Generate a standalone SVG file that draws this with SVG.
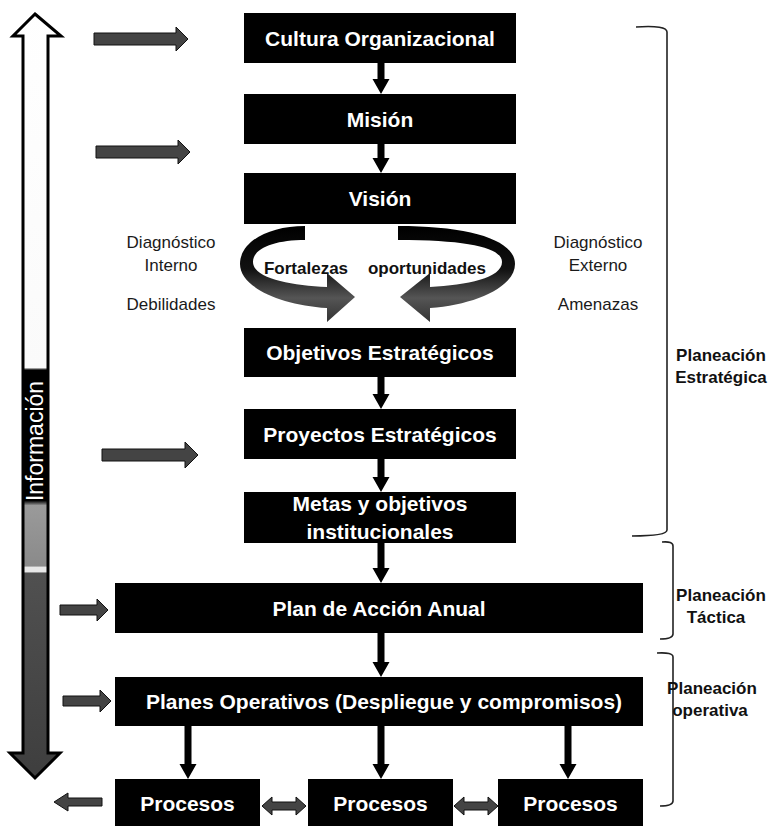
<svg xmlns="http://www.w3.org/2000/svg" width="768" height="826" viewBox="0 0 768 826">
<defs>
<style>
.box{fill:#000}
.bt{fill:#fff;font-family:"Liberation Sans",Arial,sans-serif;font-weight:bold;font-size:21px;text-anchor:middle;dominant-baseline:central}
.lbl{fill:#1a1a1a;font-family:"Liberation Sans",Arial,sans-serif;font-size:17px;text-anchor:middle;dominant-baseline:central}
.plb{fill:#111;font-family:"Liberation Sans",Arial,sans-serif;font-weight:bold;font-size:17px;text-anchor:middle;dominant-baseline:central}
.arr{fill:#000}
.feed{fill:#444;stroke:#111;stroke-width:1}
.brk{fill:none;stroke:#222;stroke-width:1.6}
</style>
<linearGradient id="info" gradientUnits="userSpaceOnUse" x1="0" y1="0" x2="0" y2="826">
<stop offset="0" stop-color="#fff"/>
<stop offset="0.445" stop-color="#fafafa"/>
<stop offset="0.448" stop-color="#000"/>
<stop offset="0.606" stop-color="#000"/>
<stop offset="0.612" stop-color="#9a9a9a"/>
<stop offset="0.685" stop-color="#8a8a8a"/>
<stop offset="0.687" stop-color="#e8e8e8"/>
<stop offset="0.692" stop-color="#e8e8e8"/>
<stop offset="0.694" stop-color="#505050"/>
<stop offset="1" stop-color="#3a3a3a"/>
</linearGradient>
<linearGradient id="curve" x1="0" y1="0" x2="0" y2="1">
<stop offset="0" stop-color="#000"/>
<stop offset="0.45" stop-color="#111"/>
<stop offset="0.75" stop-color="#555"/>
<stop offset="1" stop-color="#333"/>
</linearGradient>
</defs>
<rect width="768" height="826" fill="#fff"/>

<g id="informacion">
<path d="M35,14 L61,36 L48,36 L48,753 L60,753 L35,778 L10,753 L23,753 L23,36 L13,36 Z" fill="url(#info)" stroke="#000" stroke-width="3" stroke-linejoin="miter"/>
<text transform="translate(43,441) rotate(-90)" fill="#fff" font-family="Liberation Sans, Arial, sans-serif" font-size="23" text-anchor="middle">Información</text>
</g>

<g id="cultura"><rect class="box" x="244" y="13" width="272" height="50"/><text class="bt" x="380" y="38">Cultura Organizacional</text></g>
<g id="mision"><rect class="box" x="244" y="94" width="272" height="50"/><text class="bt" x="380" y="119">Misión</text></g>
<g id="vision"><rect class="box" x="244" y="173" width="272" height="51"/><text class="bt" x="380" y="198.5">Visión</text></g>
<g id="objetivos"><rect class="box" x="244" y="328" width="272" height="49"/><text class="bt" x="380" y="352.5">Objetivos Estratégicos</text></g>
<g id="proyectos"><rect class="box" x="244" y="409" width="272" height="50"/><text class="bt" x="380" y="434">Proyectos Estratégicos</text></g>
<g id="metas"><rect class="box" x="244" y="492" width="272" height="51"/><text class="bt" x="380" y="503" font-size="23">Metas y objetivos</text><text class="bt" x="380" y="531" font-size="23">institucionales</text></g>
<g id="plan"><rect class="box" x="115" y="583" width="528" height="50"/><text class="bt" x="379" y="608" font-size="22">Plan de Acción Anual</text></g>
<g id="planes"><rect class="box" x="115" y="677" width="528" height="49"/><text class="bt" x="384" y="701.5" font-size="22">Planes Operativos (Despliegue y compromisos)</text></g>
<g id="procesos1"><rect class="box" x="115" y="779" width="145" height="47"/><text class="bt" x="187.5" y="803">Procesos</text></g>
<g id="procesos2"><rect class="box" x="308" y="779" width="145" height="47"/><text class="bt" x="380.5" y="803">Procesos</text></g>
<g id="procesos3"><rect class="box" x="498" y="779" width="145" height="47"/><text class="bt" x="570.5" y="803">Procesos</text></g>

<g id="diagnostico-interno">
<text class="lbl" x="171" y="242">Diagnóstico</text>
<text class="lbl" x="171" y="265">Interno</text>
<text class="lbl" x="171" y="304">Debilidades</text>
</g>
<g id="diagnostico-externo">
<text class="lbl" x="598" y="242">Diagnóstico</text>
<text class="lbl" x="598" y="265">Externo</text>
<text class="lbl" x="598" y="304">Amenazas</text>
</g>

<g id="ciclo">
<path d="M305,226 C268,226 240,242 240,264 C240,287 280,305 327,308 L327,322 L355,297 L327,273 L327,287 C290,285 253,278 253,262 C253,248 275,240 305,240 Z" fill="url(#curve)"/>
<path d="M398,226 C470,226 515,240 515,264 C515,287 475,305 430,308 L430,322 L400,297 L430,273 L430,287 C467,285 502,278 502,262 C502,248 470,240 398,240 Z" fill="url(#curve)"/>
<text class="plb" x="306" y="268" font-size="16.5">Fortalezas</text>
<text class="plb" x="427" y="268" font-size="16.5">oportunidades</text>
</g>

<g id="niveles">
<path class="brk" d="M636,27 Q667,25 667,32 V530 Q667,536 632,536"/>
<path class="brk" d="M662,542 Q673,541 673,546 V634 Q673,639 660,639"/>
<path class="brk" d="M657,653 Q673,652 673,657 V801 Q673,806 660,806"/>
<text class="plb" x="721" y="355">Planeación</text>
<text class="plb" x="721" y="377">Estratégica</text>
<text class="plb" x="721" y="595">Planeación</text>
<text class="plb" x="716" y="617">Táctica</text>
<text class="plb" x="712" y="688">Planeación</text>
<text class="plb" x="710" y="710">operativa</text>
</g>

<g id="connectors">
<path class="arr" d="M377.5,63 h7 V79 h5 L381,94 L372.5,79 h5 Z"/>
<path class="arr" d="M377.5,144 h7 V158 h5 L381,173 L372.5,158 h5 Z"/>
<path class="arr" d="M377.5,377 h7 V394 h5 L381,409 L372.5,394 h5 Z"/>
<path class="arr" d="M377.5,459 h7 V477 h5 L381,492 L372.5,477 h5 Z"/>
<path class="arr" d="M377.5,543 h7 V568 h5 L381,583 L372.5,568 h5 Z"/>
<path class="arr" d="M377.5,633 h7 V662 h5 L381,677 L372.5,662 h5 Z"/>
<path class="arr" d="M184.5,726 h7 V764 h5 L188,779 L179.5,764 h5 Z"/>
<path class="arr" d="M377.5,726 h7 V764 h5 L381,779 L372.5,764 h5 Z"/>
<path class="arr" d="M564.5,726 h7 V764 h5 L568,779 L559.5,764 h5 Z"/>
<path class="feed" d="M94,33 H176 V27 L188,39 L176,51 V45 H94 Z"/>
<path class="feed" d="M96,146 H178 V140 L190,152 L178,164 V158 H96 Z"/>
<path class="feed" d="M102,449 H185 V442 L198,455 L185,468 V461 H102 Z"/>
<path class="feed" d="M60,605 H97 V599 L108,610 L97,621 V615 H60 Z"/>
<path class="feed" d="M63,696 H100 V690 L111,701 L100,712 V706 H63 Z"/>
<path class="feed" d="M102,798 H68 V793 L54,802 L68,811 V806 H102 Z" fill="#666"/>
<path class="feed" d="M262,806 L272,797 V802 H296 V797 L306,806 L296,815 V810 H272 V815 Z" fill="#555"/>
<path class="feed" d="M454,806 L464,797 V802 H488 V797 L498,806 L488,815 V810 H464 V815 Z" fill="#555"/>
</g>
</svg>
